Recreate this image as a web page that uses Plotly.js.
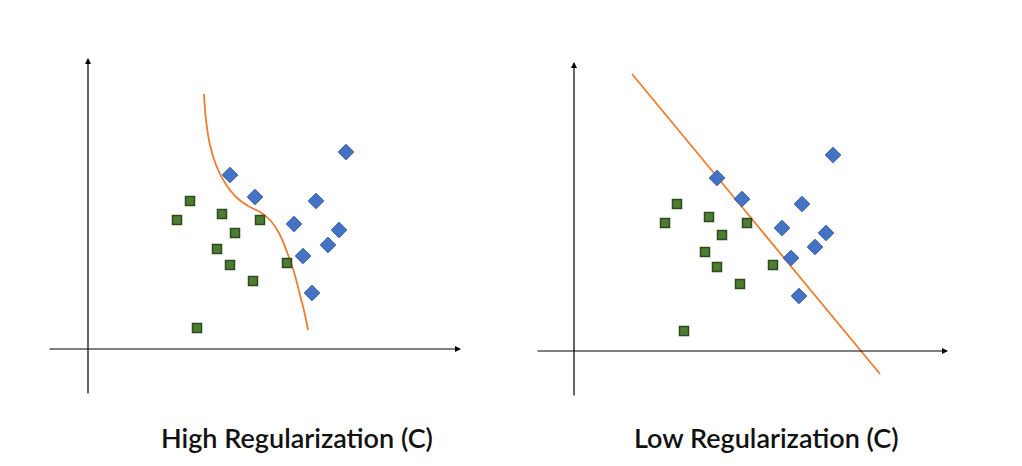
<!DOCTYPE html>
<html>
<head>
<meta charset="utf-8">
<script src="https://cdn.plot.ly/plotly-3.0.1.min.js"></script>
<style>html,body{margin:0;padding:0;background:#fff}</style>
</head>
<body>
<div id="chart" style="width:1022px;height:466px"></div>
<script>
// positions, in picture pixels
const leftGreenX = [190, 177, 222, 235, 217, 230, 260, 253, 287, 197];
const leftGreenY = [201, 220, 214, 233, 249, 265, 220, 281, 263, 328];
const leftBlueX = [230, 255, 346, 316, 294, 339, 328, 303, 312];
const leftBlueY = [175, 197, 152, 201, 224, 230, 245, 256, 293];
const curveX = [204, 206, 210, 216, 225, 236, 248, 260, 270, 279, 287, 294, 300, 305, 308];
const curveY = [94, 120, 145, 165, 183, 197, 206, 212, 220, 233, 252, 272, 295, 315, 330];

const rightGreenX = [677, 665, 709, 722, 705, 717, 747, 740, 773, 684];
const rightGreenY = [204, 223, 217, 235, 252, 267, 223, 284, 265, 331];
const rightBlueX = [717, 742, 833, 802, 782, 826, 815, 791, 799];
const rightBlueY = [178, 199, 155, 204, 228, 233, 247, 258, 296];
const lineX = [632, 880];
const lineY = [74, 374];

const titles = ['High Regularization (C)', 'Low Regularization (C)'];
const titleX = [297, 766];

const green = {symbol: 'square', size: 9, color: '#4e7d32', line: {color: '#2f4a1f', width: 1.5}};
const blue = {symbol: 'diamond', size: 12, color: '#4472c4', line: {color: '#3a5fa0', width: 1}};
const orange = {color: '#ed7d31', width: 1.8};

const traces = [
  {x: curveX, y: curveY, mode: 'lines', line: Object.assign({shape: 'spline'}, orange)},
  {x: lineX, y: lineY, mode: 'lines', line: orange},
  {x: leftGreenX, y: leftGreenY, mode: 'markers', marker: green},
  {x: leftBlueX, y: leftBlueY, mode: 'markers', marker: blue},
  {x: rightGreenX, y: rightGreenY, mode: 'markers', marker: green},
  {x: rightBlueX, y: rightBlueY, mode: 'markers', marker: blue}
];

function arrow(x, y, ax, ay) {
  return {x: x, y: y, ax: ax, ay: ay, xref: 'x', yref: 'y', axref: 'x', ayref: 'y',
    showarrow: true, arrowhead: 2, arrowsize: 1, arrowwidth: 1.2, arrowcolor: '#000', text: ''};
}
const annotations = [
  arrow(88, 58, 88, 395), arrow(461, 349, 48, 349),
  arrow(574, 62, 574, 397), arrow(948, 351, 536, 351)
];
titles.forEach((t, i) => annotations.push({
  x: titleX[i], y: 437, xref: 'x', yref: 'y', text: t, showarrow: false,
  font: {family: 'Lato, "Open Sans", sans-serif', size: 27, weight: 600, color: '#111'}
}));

Plotly.newPlot('chart', traces, {
  width: 1022, height: 466,
  margin: {l: 0, r: 0, t: 0, b: 0},
  showlegend: false,
  paper_bgcolor: '#fff', plot_bgcolor: '#fff',
  xaxis: {range: [0, 1022], visible: false, fixedrange: true},
  yaxis: {range: [466, 0], visible: false, fixedrange: true},
  annotations: annotations
}, {staticPlot: true});
</script>
</body>
</html>
